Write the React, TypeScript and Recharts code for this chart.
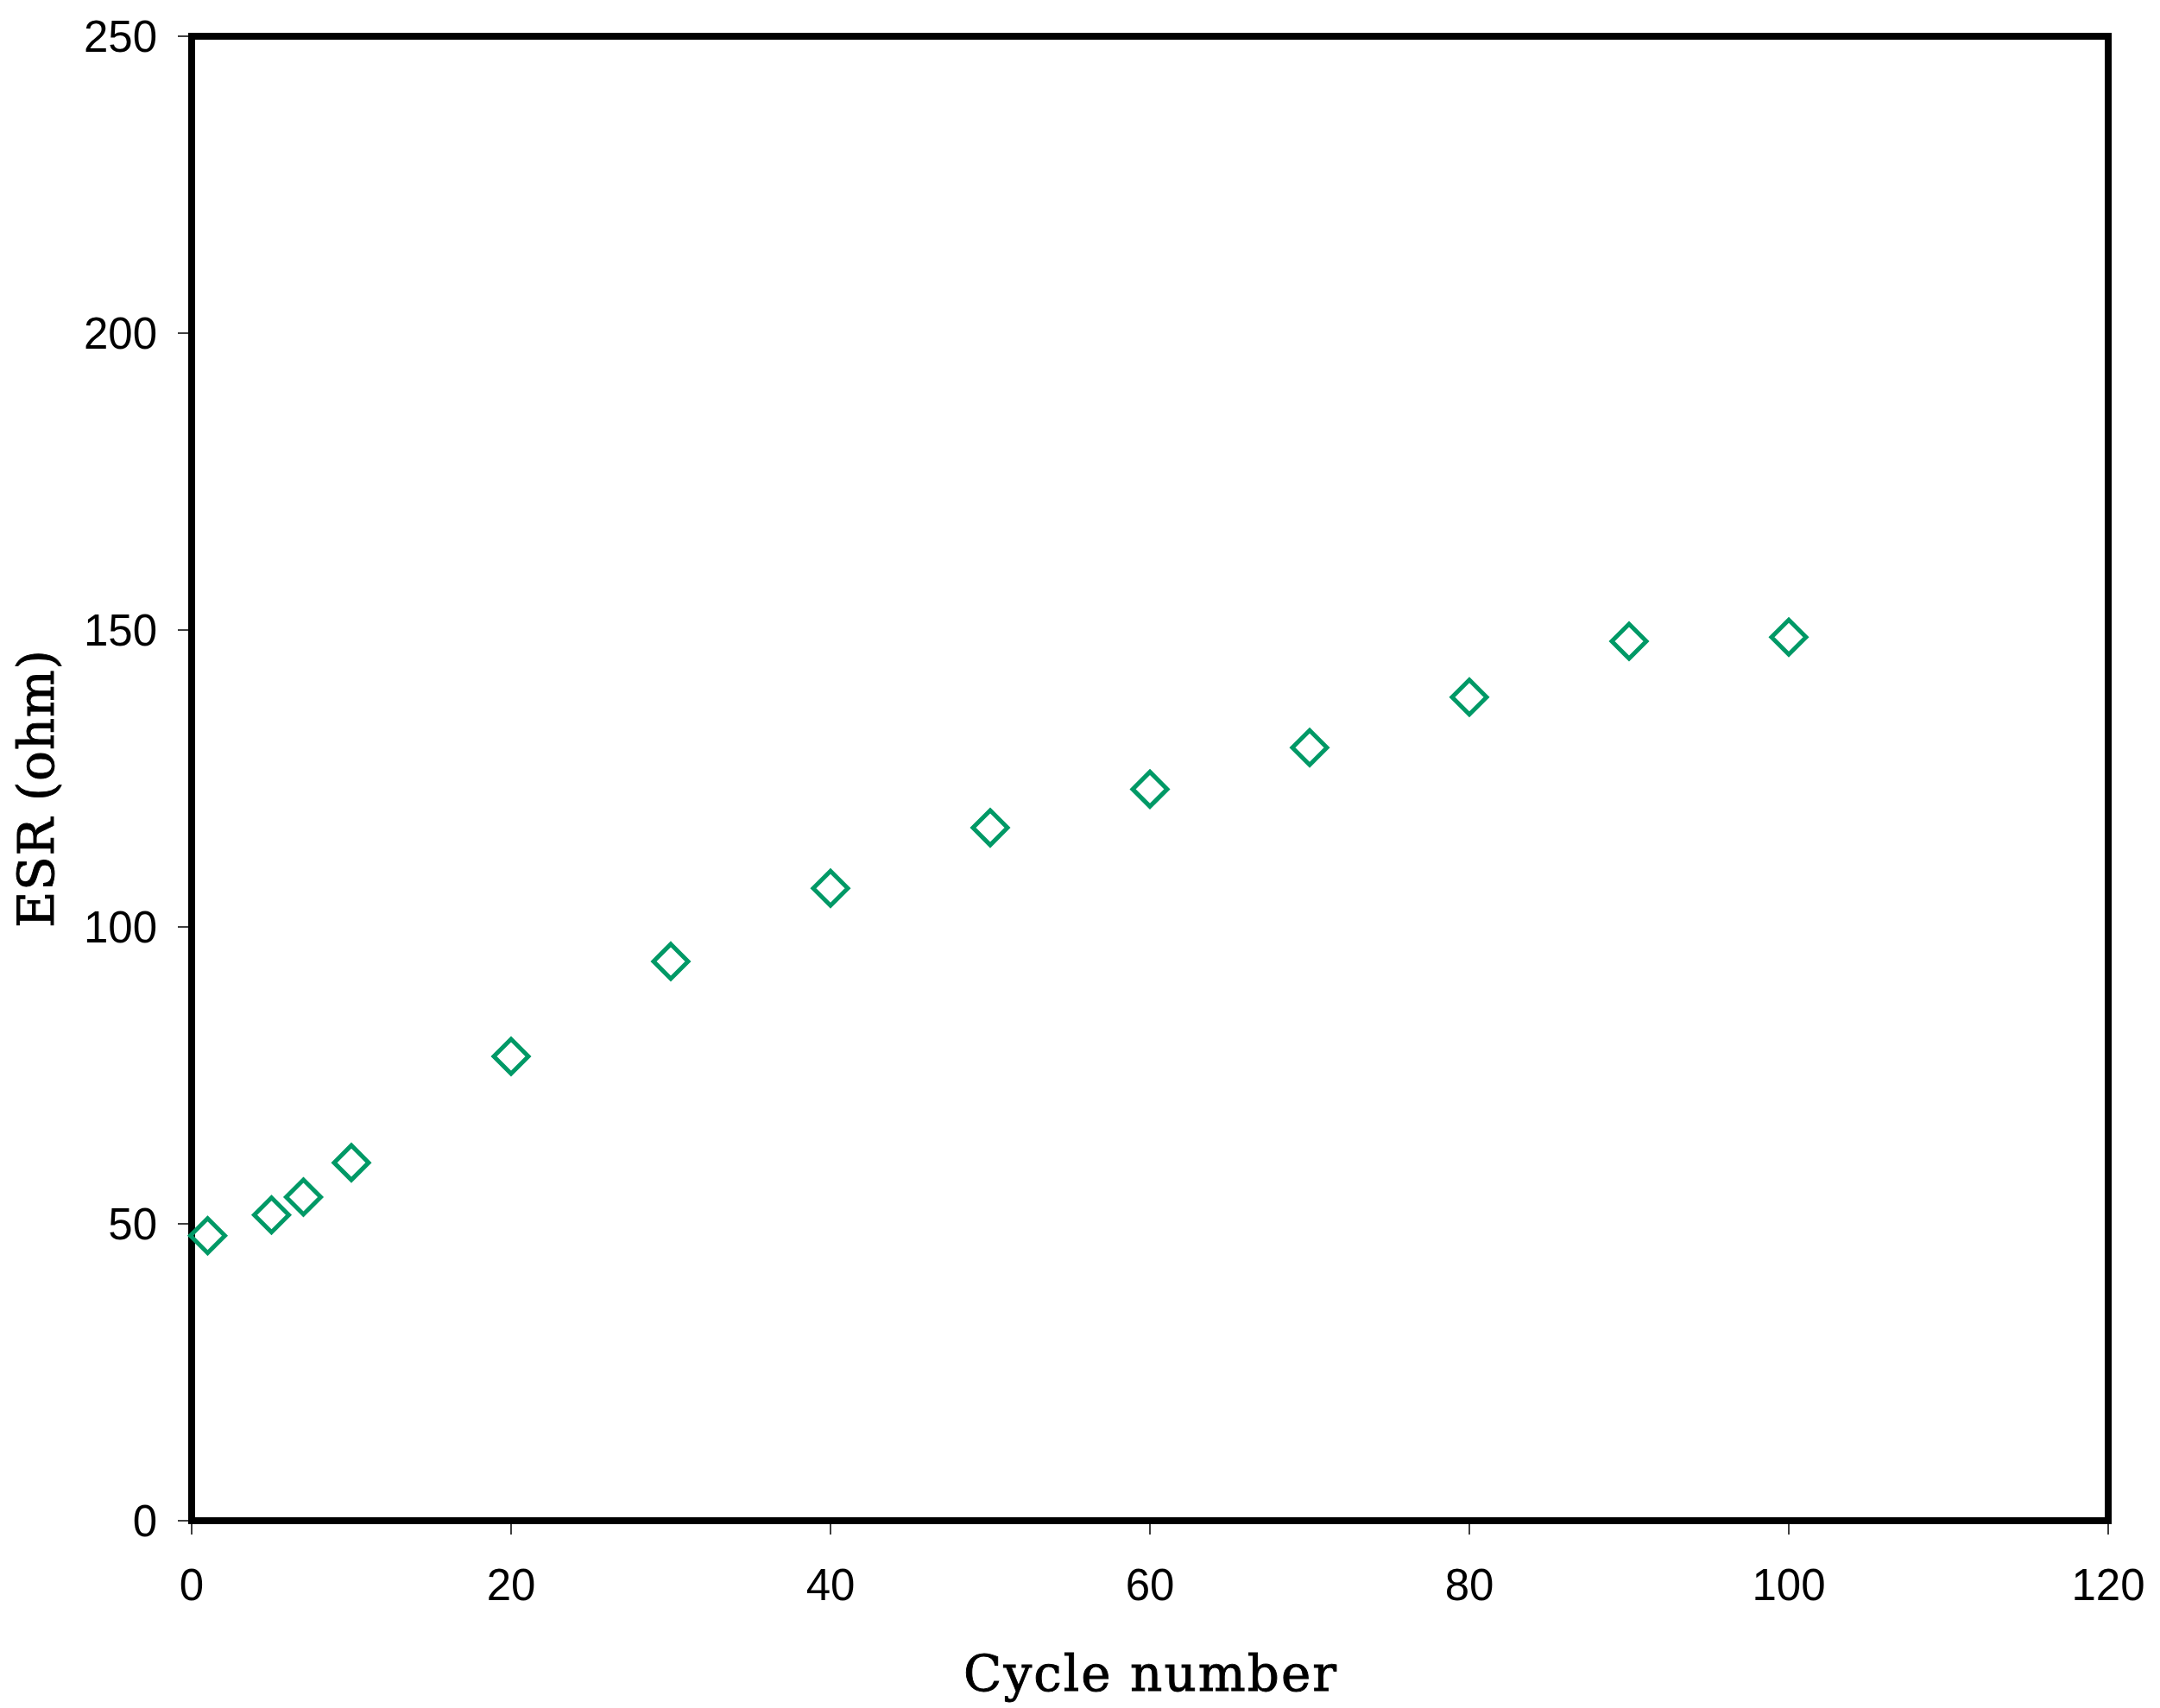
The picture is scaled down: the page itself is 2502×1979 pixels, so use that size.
import { ReferenceArea, Scatter, ScatterChart, XAxis, YAxis } from "recharts";

const CYCLES = [1, 5, 7, 10, 20, 30, 40, 50, 60, 70, 80, 90, 100];
const ESR_OHM = [48, 51.5, 54.5, 60.3, 78.2, 94.2, 106.5, 116.7, 123.2, 130.2, 138.7, 148.1, 148.8];
const X_TICKS = [0, 20, 40, 60, 80, 100, 120];
const Y_TICKS = [0, 50, 100, 150, 200, 250];

const GREEN = "#009966";
const INK = "#000000";
const TICK_FONT = "'Liberation Sans', Arial, sans-serif";
const TITLE_FONT = "'DejaVu Serif', serif";

const data = CYCLES.map((c, i) => ({ cycle: c, esr: ESR_OHM[i] }));

function Diamond(props: any) {
  const { cx, cy } = props;
  if (cx == null || cy == null) return null;
  const r = 20;
  return (
    <path
      d={`M${cx},${cy - r}L${cx + r},${cy}L${cx},${cy + r}L${cx - r},${cy}Z`}
      fill="none"
      stroke={GREEN}
      strokeWidth={5}
    />
  );
}

function XTitle(props: any) {
  const vb = props.viewBox || {};
  return (
    <text
      x={vb.x + vb.width / 2}
      y={vb.y + 197}
      textAnchor="middle"
      fontFamily={TITLE_FONT}
      fontSize={58}
      textLength={432}
      lengthAdjust="spacing"
      fill={INK}
      stroke={INK}
      strokeWidth={0.9}
    >
      Cycle number
    </text>
  );
}

function YTitle(props: any) {
  const vb = props.viewBox || {};
  const x = vb.x - 30;
  const y = vb.y + vb.height / 2 + 12;
  return (
    <text
      x={x}
      y={y}
      transform={`rotate(-90, ${x}, ${y})`}
      textAnchor="middle"
      dominantBaseline="central"
      fontFamily={TITLE_FONT}
      fontSize={58}
      textLength={322}
      lengthAdjust="spacing"
      fill={INK}
      stroke={INK}
      strokeWidth={0.9}
    >
      ESR (ohm)
    </text>
  );
}

export default function App() {
  const tick = { fill: INK, fontSize: 51, fontFamily: TICK_FONT };
  return (
    <div style={{ position: "absolute", left: 0, top: 0, width: 2502, height: 1979, background: "#fff" }}>
      <ScatterChart width={2502} height={1979} margin={{ top: 42, right: 60, bottom: 67, left: 72 }}>
        <XAxis
          type="number"
          dataKey="cycle"
          domain={[0, 120]}
          ticks={X_TICKS}
          interval={0}
          height={150}
          axisLine={false}
          tickSize={16}
          tickMargin={40}
          tickLine={{ stroke: INK, strokeWidth: 1.5 }}
          tick={tick}
          label={(p: any) => <XTitle {...p} />}
        />
        <YAxis
          type="number"
          dataKey="esr"
          domain={[0, 250]}
          ticks={Y_TICKS}
          interval={0}
          width={150}
          axisLine={false}
          tickSize={16}
          tickMargin={24}
          tickLine={{ stroke: INK, strokeWidth: 1.5 }}
          tick={tick}
          label={(p: any) => <YTitle {...p} />}
        />
        <ReferenceArea x1={0} x2={120} y1={0} y2={250} fill="none" fillOpacity={0} stroke={INK} strokeWidth={8} />
        <Scatter data={data} shape={<Diamond />} isAnimationActive={false} />
      </ScatterChart>
    </div>
  );
}
